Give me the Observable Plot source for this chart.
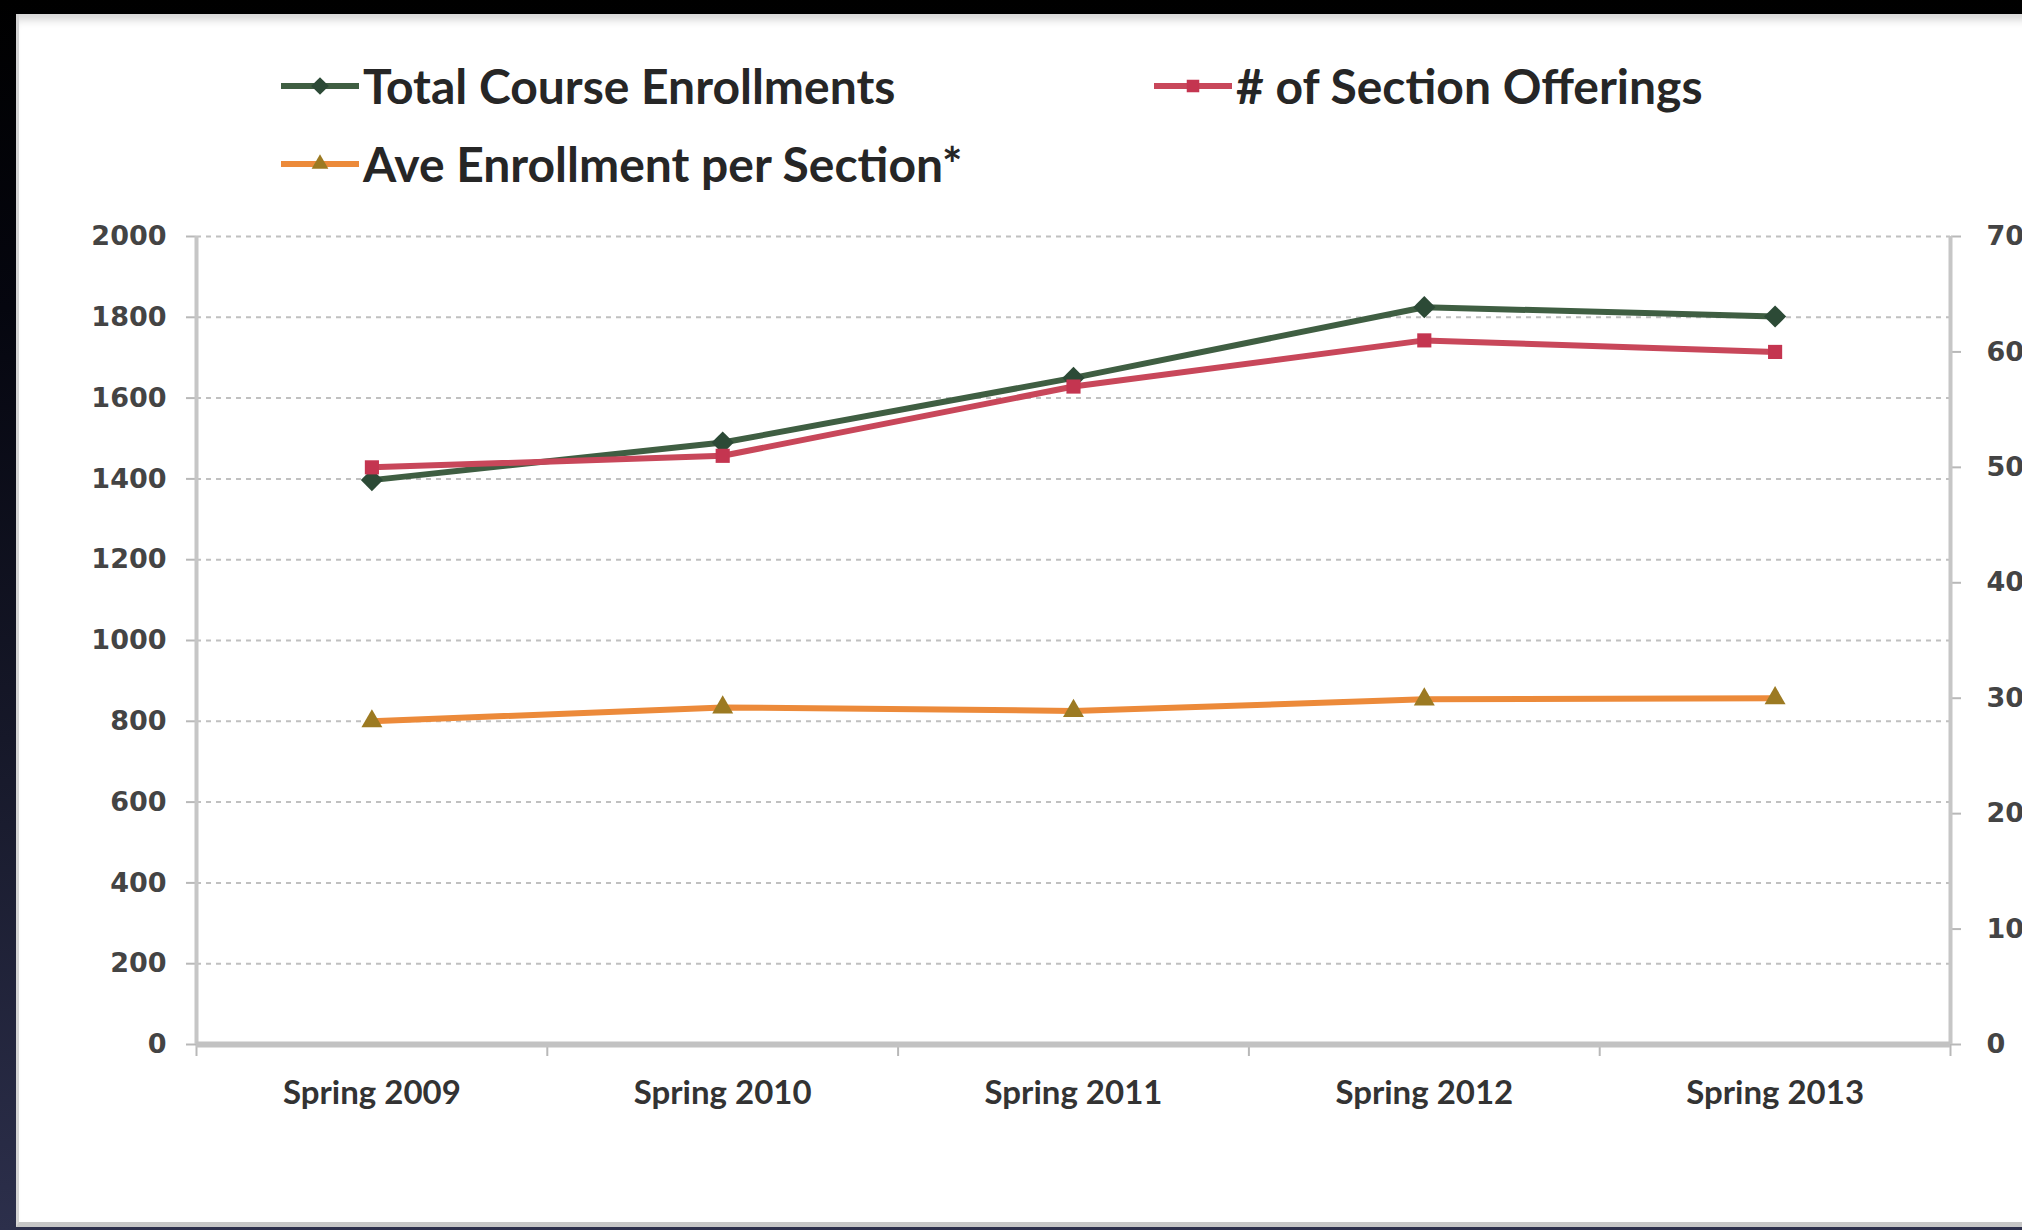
<!DOCTYPE html>
<html><head><meta charset="utf-8">
<script src="https://cdn.jsdelivr.net/npm/d3@7"></script>
<script src="https://cdn.jsdelivr.net/npm/@observablehq/plot@0.6"></script>
<style>
html,body{margin:0;padding:0;width:2022px;height:1230px;overflow:hidden;
  background:linear-gradient(#000 0%, #05060f 25%, #161829 60%, #2c2f4b 100%);}
#panel{position:absolute;left:16px;top:14px;width:2040px;height:1208px;background:#fff;
  border-left:3px solid #d4d4d4;border-bottom:5px solid #c6c6c6;
  box-shadow:inset 0 12px 8px -6px #d6d6d6;}
#chart{position:absolute;left:0;top:200px;}
.leg{position:absolute;font-family:Lato, "Open Sans", sans-serif;font-weight:bold;font-size:48px;
  color:#262626;display:flex;align-items:center;white-space:nowrap;line-height:1;transform:translateY(-50%);}
.leg svg{margin-right:4px;}
</style></head><body>
<div id="panel"></div>
<div id="legend"></div>
<div id="chart"></div>
<script>
const categories = ["Spring 2009", "Spring 2010", "Spring 2011", "Spring 2012", "Spring 2013"];
const totalEnrollments = [1397, 1490, 1650, 1825, 1802];
const sectionOfferings = [50, 51, 57, 61, 60];
const aveEnrollment = [28, 29.2, 28.9, 29.9, 30];
const leftTicks = [0, 200, 400, 600, 800, 1000, 1200, 1400, 1600, 1800, 2000];
const rightTicks = [0, 10, 20, 30, 40, 50, 60, 70];
const seriesNames = ["Total Course Enrollments", "# of Section Offerings", "Ave Enrollment per Section*"];
const lineColors = ["#3f5e42", "#c8475a", "#ec8a3a"];
const markColors = ["#2c4a36", "#c43550", "#9c7a22"];
const symbols = ["diamond2", "square2", "triangle2"];

const k = 2000 / 70; // right axis (0–70) mapped onto left axis (0–2000)
const rows = [];
categories.forEach((c, i) => {
  rows.push({i, series: 0, v: totalEnrollments[i]});
  rows.push({i, series: 1, v: sectionOfferings[i] * k});
  rows.push({i, series: 2, v: aveEnrollment[i] * k});
});

// legend
const legendPos = [[281, 86], [1154, 86], [281, 164]];
const legend = document.getElementById("legend");
seriesNames.forEach((name, s) => {
  const d = document.createElement("div");
  d.className = "leg";
  d.style.left = legendPos[s][0] + "px";
  d.style.top = legendPos[s][1] + "px";
  const sym = d3.symbol(d3[{diamond2: "symbolDiamond2", square2: "symbolSquare2", triangle2: "symbolTriangle2"}[symbols[s]]], 200)();
  d.innerHTML = `<svg width="78" height="30" viewBox="0 0 78 30"><line x1="0" x2="78" y1="15" y2="15" stroke="${lineColors[s]}" stroke-width="6"/><path transform="translate(39,15)" d="${sym}" fill="${markColors[s]}"/></svg><span>${name}</span>`;
  legend.appendChild(d);
});

const chart = Plot.plot({
  width: 2022,
  height: 930,
  marginLeft: 196,
  marginRight: 72,
  marginTop: 36,
  marginBottom: 86,
  style: {background: "transparent", overflow: "visible"},
  x: {type: "linear", domain: [-0.5, categories.length - 0.5], axis: null},
  y: {domain: [0, 2000], axis: null},
  marks: [
    Plot.ruleY(leftTicks.filter(d => d > 0), {stroke: "#c0c0c0", strokeWidth: 2, strokeDasharray: "5,5"}),
    Plot.axisY({anchor: "left", label: null, ticks: leftTicks, tickSize: 10, tickPadding: 20, tickFormat: d => String(d),
      fontSize: 27, fontWeight: "bold", fontFamily: "DejaVu Sans", fill: "#444", stroke: "#b8b8b8", strokeWidth: 2}),
    Plot.axisY({anchor: "right", label: null, ticks: rightTicks.map(v => v * k), tickSize: 10, tickPadding: 26,
      tickFormat: d => String(Math.round(d / k)),
      fontSize: 27, fontWeight: "bold", fontFamily: "DejaVu Sans", fill: "#444", stroke: "#b8b8b8", strokeWidth: 2}),
    Plot.axisX({label: null, ticks: d3.range(-0.5, categories.length, 1), tickSize: 12, tickFormat: () => "", stroke: "#b8b8b8", strokeWidth: 2}),
    Plot.axisX({label: null, ticks: d3.range(categories.length), tickSize: 0, tickPadding: 36, tickFormat: i => categories[i],
      fontSize: 33, fontWeight: "bold", fontFamily: "Lato", fill: "#333"}),
    Plot.ruleX([-0.5, categories.length - 0.5], {stroke: "#c6c6c6", strokeWidth: 4}),
    Plot.ruleY([0], {stroke: "#c2c2c2", strokeWidth: 6}),
    ...[2, 0, 1].flatMap(s => [
      Plot.line(rows.filter(r => r.series === s), {x: "i", y: "v", stroke: lineColors[s], strokeWidth: 6}),
      Plot.dot(rows.filter(r => r.series === s), {x: "i", y: "v", symbol: symbols[s], r: s === 1 ? 9 : 10, fill: markColors[s]})
    ])
  ]
});
document.getElementById("chart").appendChild(chart);
</script>
</body></html>
